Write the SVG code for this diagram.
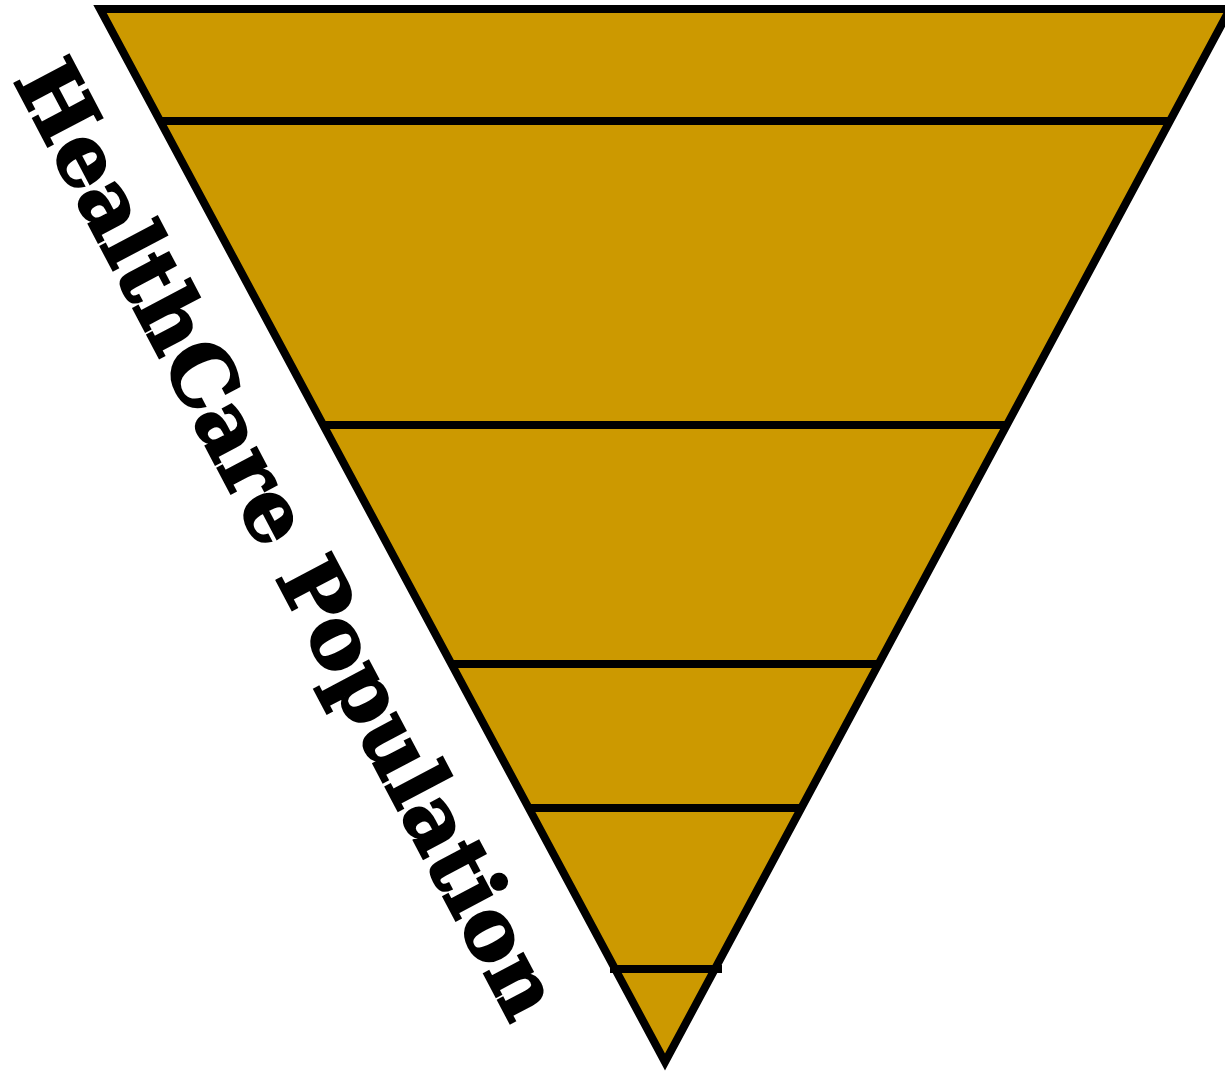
<svg xmlns="http://www.w3.org/2000/svg" width="1225" height="1074" viewBox="0 0 1225 1074">
<style>
.tri{fill:#CC9900;stroke:#000;stroke-width:8;stroke-linejoin:miter;stroke-miterlimit:10}
.sep{stroke:#000;stroke-width:8;fill:none}
.lbl{font-family:"DejaVu Serif","Liberation Serif",serif;font-weight:bold;font-size:84px;fill:#000;stroke:#000;stroke-width:2.5}
</style>
<rect width="1225" height="1074" fill="#fff"/>
<g id="pyramid">
<polygon class="tri" points="100,9 1230,9 665,1062"/>
</g>
<g id="connectors">
<line class="sep" x1="160" y1="121" x2="1170" y2="121"/>
<line class="sep" x1="323" y1="425" x2="1007" y2="425"/>
<line class="sep" x1="452" y1="664" x2="878" y2="664"/>
<line class="sep" x1="530" y1="808" x2="800" y2="808"/>
<line class="sep" x1="610" y1="969" x2="722" y2="969"/>
</g>
<g id="label">
<text class="lbl" transform="translate(13,80) rotate(62.2)" x="0" y="0" textLength="1068" lengthAdjust="spacingAndGlyphs">HealthCare Population</text>
</g>
</svg>
